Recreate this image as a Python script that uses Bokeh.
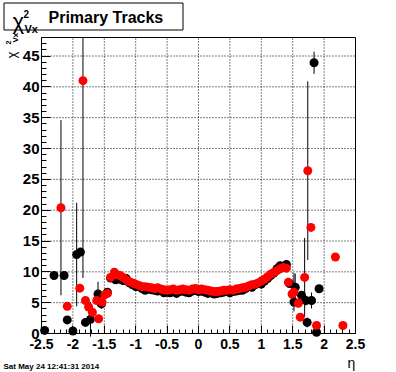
import math
import numpy as np
from bokeh.plotting import figure
from bokeh.models import (FixedTicker, CustomJSTickFormatter, Label, LinearAxis,
                          BoxAnnotation, ColumnDataSource, Range1d)
from bokeh.embed import file_html
from bokeh.resources import INLINE

# ---------------- data ----------------
black_eta = [-2.45, -2.30, -2.14, -2.09, -2.00, -1.94, -1.88, -1.80, -1.72, -1.60,
             -1.545, -1.45, -1.40, -1.32,
             -1.25, -1.20, -1.15, -1.10, -1.05, -1.00, -0.95, -0.90, -0.85, -0.80,
             -0.75, -0.70, -0.65, -0.60, -0.55, -0.50, -0.45, -0.40, -0.35, -0.30,
             -0.25, -0.20, -0.15, -0.10, -0.05, 0.00, 0.05, 0.10, 0.15, 0.20,
             0.25, 0.30, 0.35, 0.40, 0.45, 0.50, 0.55, 0.60, 0.65, 0.70,
             0.75, 0.80, 0.85, 0.90, 0.95, 1.00, 1.05, 1.10, 1.15, 1.20,
             1.25, 1.30, 1.35, 1.40,
             1.45, 1.52, 1.54, 1.64, 1.71, 1.73, 1.80, 1.84, 1.88, 1.92]
black_chi2 = [0.5, 9.4, 9.4, 2.2, 0.4, 12.8, 13.2, 1.8, 2.3, 6.4,
              4.8, 6.7, 9.0, 8.7,
              8.8, 8.6, 8.9, 8.2, 7.9, 7.6, 7.7, 7.3, 7.0, 7.2,
              7.1, 7.0, 6.9, 7.0, 6.6, 6.7, 6.6, 6.9, 6.5, 6.8,
              6.9, 6.7, 6.6, 6.9, 7.0, 6.8, 6.9, 6.7, 6.5, 6.6,
              6.4, 6.5, 6.6, 6.7, 6.9, 6.6, 6.8, 6.9, 7.0, 7.0,
              7.3, 7.6, 7.5, 7.9, 8.1, 8.0, 8.5, 8.9, 9.4, 9.8,
              10.5, 11.0, 10.8, 11.2,
              8.1, 5.1, 7.5, 6.2, 5.35, 1.8, 5.35, 43.9, 0.2, 7.25]
black_err = [0.3, 0.4, 0.4, 0.3, 0.3, 8.4, 0.5, 0.4, 2.8, 2.0,
             0.8, 0.5, 0.5, 0.3,
             0.3, 0.3, 0.3, 0.3, 0.2, 0.2, 0.2, 0.2, 0.2, 0.2,
             0.2, 0.2, 0.2, 0.2, 0.2, 0.2, 0.2, 0.2, 0.2, 0.2,
             0.2, 0.2, 0.2, 0.2, 0.2, 0.2, 0.2, 0.2, 0.2, 0.2,
             0.2, 0.2, 0.2, 0.2, 0.2, 0.2, 0.2, 0.2, 0.2, 0.2,
             0.2, 0.2, 0.2, 0.2, 0.2, 0.2, 0.3, 0.3, 0.3, 0.3,
             0.4, 0.4, 0.5, 0.5,
             0.5, 0.6, 2.2, 0.6, 0.8, 0.8, 1.3, 1.8, 0.3, 0.5]

red_eta = [-2.19, -2.09, -1.89, -1.84, -1.80, -1.75, -1.69, -1.62, -1.59, -1.535,
           -1.49, -1.45, -1.40, -1.34, -1.29,
           -1.25, -1.20, -1.15, -1.10, -1.05, -1.00, -0.95, -0.90, -0.85, -0.80,
           -0.75, -0.70, -0.65, -0.60, -0.55, -0.50, -0.45, -0.40, -0.35, -0.30,
           -0.25, -0.20, -0.15, -0.10, -0.05, 0.00, 0.05, 0.10, 0.15, 0.20,
           0.25, 0.30, 0.35, 0.40, 0.45, 0.50, 0.55, 0.60, 0.65, 0.70,
           0.75, 0.80, 0.85, 0.90, 0.95, 1.00, 1.05, 1.10, 1.15, 1.20,
           1.25, 1.30, 1.35, 1.40,
           1.43, 1.49, 1.52, 1.59, 1.62, 1.69, 1.74, 1.79, 1.88, 2.18, 2.30]
red_chi2 = [20.4, 4.4, 7.35, 41.0, 5.35, 4.3, 3.45, 5.35, 2.4, 5.1,
            6.3, 6.5, 9.1, 9.95, 9.5,
            9.4, 9.1, 8.7, 8.4, 8.2, 8.0, 7.8, 7.6, 7.6, 7.5,
            7.4, 7.3, 7.4, 7.2, 7.1, 7.0, 7.1, 7.2, 7.0, 7.1,
            7.2, 7.1, 7.0, 7.2, 7.3, 7.1, 7.2, 7.1, 7.0, 6.9,
            6.8, 6.8, 6.9, 7.0, 7.0, 7.1, 7.0, 7.2, 7.3, 7.4,
            7.5, 7.7, 7.9, 8.0, 8.2, 8.5, 8.8, 9.2, 9.6, 9.9,
            10.2, 10.5, 10.7, 10.6,
            8.3, 6.4, 6.7, 4.9, 2.65, 9.1, 26.4, 17.2, 1.3, 12.4, 1.3]
red_err = [14.2, 0.5, 0.6, 32.0, 0.6, 1.0, 0.5, 0.6, 0.5, 0.5,
           0.4, 0.4, 0.3, 0.3, 0.3,
           0.3, 0.3, 0.3, 0.3, 0.2, 0.2, 0.2, 0.2, 0.2, 0.2,
           0.2, 0.2, 0.2, 0.2, 0.2, 0.2, 0.2, 0.2, 0.2, 0.2,
           0.2, 0.2, 0.2, 0.2, 0.2, 0.2, 0.2, 0.2, 0.2, 0.2,
           0.2, 0.2, 0.2, 0.2, 0.2, 0.2, 0.2, 0.2, 0.2, 0.2,
           0.2, 0.2, 0.2, 0.2, 0.2, 0.2, 0.3, 0.3, 0.3, 0.3,
           0.4, 0.4, 0.5, 0.5,
           0.4, 0.5, 3.1, 0.6, 0.6, 6.4, 14.5, 0.6, 0.4, 0.5, 0.4]

x_ticks = [-2.5, -2.0, -1.5, -1.0, -0.5, 0.0, 0.5, 1.0, 1.5, 2.0, 2.5]
y_ticks = [0, 5, 10, 15, 20, 25, 30, 35, 40, 45]
x_minor = [round(v, 2) for v in np.arange(-2.5, 2.51, 0.1)]
y_minor = list(range(0, 49))

title_main = "Primary Tracks"
title_sym, title_sup, title_sub = "\u03c7", "2", "Vx"
x_label = "\u03b7"
date_text = "Sat May 24 12:41:31 2014"

X_MIN, X_MAX = -2.5, 2.5
Y_MIN, Y_MAX = 0.0, 48.0

# ---------------- geometry ----------------
# The plot frame fills the whole canvas; the data box (in picture pixels)
# spans x 41..355 and y 37..333.
W, H = 396, 372
BOX_L, BOX_R, BOX_T, BOX_B = 41, 355, 37, 333


def rx(px):
    return X_MIN + (px - BOX_L) * (X_MAX - X_MIN) / (BOX_R - BOX_L)


def ry(py):
    return Y_MIN + (BOX_B - py) * (Y_MAX - Y_MIN) / (BOX_B - BOX_T)


p = figure(width=W, height=H,
           x_range=Range1d(rx(0), rx(W)), y_range=Range1d(ry(H), ry(0)),
           output_backend="svg", toolbar_location=None, title=None,
           min_border=0, min_border_left=0, min_border_right=0,
           min_border_top=0, min_border_bottom=0,
           background_fill_color="white", border_fill_color="white")
p.outline_line_color = None
p.grid.visible = False

FONT = "Liberation Sans"

# ---------------- axes (library axes pinned to the data box) ----------------
xt = FixedTicker(ticks=x_ticks, minor_ticks=x_minor)
yt = FixedTicker(ticks=y_ticks, minor_ticks=y_minor)
xax = p.xaxis[0]
yax = p.yaxis[0]
xax.ticker = xt
yax.ticker = yt
xax.formatter = CustomJSTickFormatter(code="return String(Math.round(tick*10)/10);")
yax.formatter = CustomJSTickFormatter(code="return String(Math.round(tick));")
xax.fixed_location = Y_MIN
yax.fixed_location = X_MIN
xax.bounds = (X_MIN, X_MAX)
yax.bounds = (Y_MIN, Y_MAX)

for ax in (xax, yax):
    ax.axis_line_color = "black"
    ax.axis_line_width = 1
    ax.major_tick_line_color = "black"
    ax.minor_tick_line_color = "black"
    ax.major_tick_out = 0
    ax.minor_tick_out = 0
    ax.major_label_text_font = FONT
    ax.major_label_text_font_style = "bold"
    ax.major_label_text_color = "black"
xax.major_label_text_font_size = "14px"
yax.major_label_text_font_size = "15px"
xax.major_tick_in = 8
xax.minor_tick_in = 4
yax.major_tick_in = 9
yax.minor_tick_in = 5
xax.major_label_standoff = 5
yax.major_label_standoff = 2

# top and right edges of the box
top_ax = LinearAxis(fixed_location=Y_MAX, bounds=(X_MIN, X_MAX),
                    ticker=FixedTicker(ticks=[], minor_ticks=[]),
                    major_tick_in=0, major_tick_out=0, minor_tick_in=0, minor_tick_out=0,
                    major_label_text_font_size="0px", axis_line_color="black")
right_ax = LinearAxis(fixed_location=X_MAX, bounds=(Y_MIN, Y_MAX),
                      ticker=FixedTicker(ticks=[], minor_ticks=[]),
                      major_tick_in=0, major_tick_out=0, minor_tick_in=0, minor_tick_out=0,
                      major_label_text_font_size="0px", axis_line_color="black")
p.add_layout(top_ax, "above")
p.add_layout(right_ax, "right")

# dotted grid at the major ticks, inside the box
gx = x_ticks[1:-1]
gy = y_ticks[1:]
p.segment(x0=gx, y0=[Y_MIN] * len(gx), x1=gx, y1=[Y_MAX] * len(gx),
          line_color="black", line_width=1, line_dash="1 2")
p.segment(x0=[X_MIN] * len(gy), y0=gy, x1=[X_MAX] * len(gy), y1=gy,
          line_color="black", line_width=1, line_dash="1 2")


# ---------------- data marks ----------------
def source(eta, val, err):
    v = np.array(val, dtype=float)
    e = np.array(err, dtype=float)
    return ColumnDataSource(dict(x=eta, y=v, lo=v - e, hi=np.minimum(v + e, Y_MAX)))


bsrc = source(black_eta, black_chi2, black_err)
rsrc = source(red_eta, red_chi2, red_err)

p.segment(x0="x", y0="lo", x1="x", y1="hi", source=bsrc, line_color="black", line_width=1)
p.scatter(x="x", y="y", source=bsrc, marker="circle", size=9,
          fill_color="black", line_color=None)
p.segment(x0="x", y0="lo", x1="x", y1="hi", source=rsrc, line_color="black", line_width=1)
p.scatter(x="x", y="y", source=rsrc, marker="circle", size=9,
          fill_color="#ff0000", line_color=None)

# ---------------- title box and texts ----------------
box = BoxAnnotation(left=rx(3.5), right=rx(182.5), top=ry(2.5), bottom=ry(29.5),
                    fill_color="white", fill_alpha=1.0, line_color="black",
                    line_alpha=1.0, line_width=1)
p.add_layout(box)


def lab(text, px, py, size, style="bold", align="left", baseline="alphabetic", angle=0.0):
    p.add_layout(Label(x=rx(px), y=ry(py), text=text, text_font=FONT,
                       text_font_style=style, text_font_size=size,
                       text_align=align, text_baseline=baseline, angle=angle,
                       text_color="black"))


lab(title_sym, 12, 21, "22px", style="normal")
lab(title_sup, 23, 13, "10px")
lab(title_sub, 24, 28, "11px")
lab(title_main, 48, 17, "16px")

# y-axis label (rotated, reading upwards)
lab(title_sym, 11, 58, "13px", style="normal", angle=math.pi / 2)
lab(title_sup, 8, 44, "7px", angle=math.pi / 2)
lab(title_sub, 15, 42, "8px", angle=math.pi / 2)

# x-axis label
lab(x_label, 351, 362, "14px", style="normal", align="center")

# date stamp
lab(date_text, 3, 366, "8px")

open("out.html", "w").write(file_html(p, INLINE))
